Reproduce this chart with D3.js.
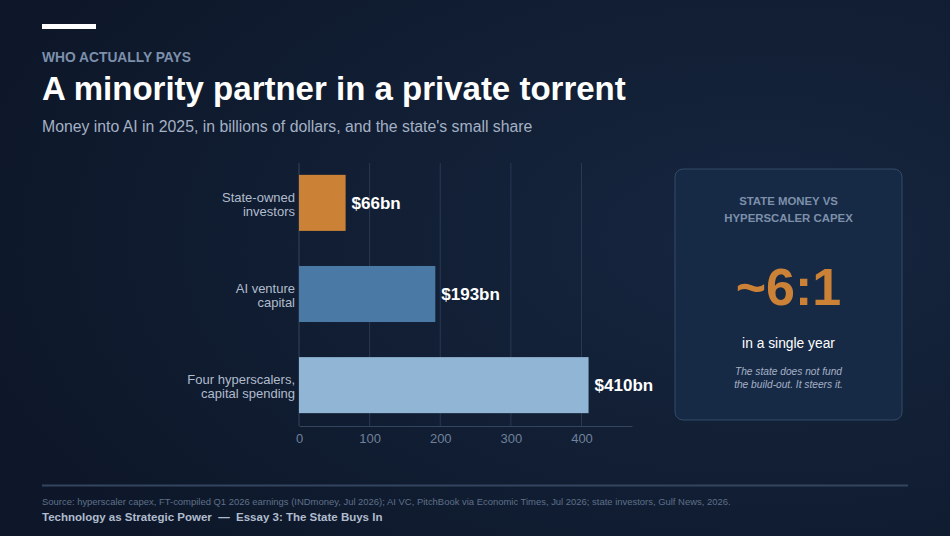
<!DOCTYPE html>
<html>
<head>
<meta charset="utf-8">
<script src="https://cdn.jsdelivr.net/npm/d3@7"></script>
<style>
  html, body { margin: 0; padding: 0; background: #0f1a2d; }
  svg { display: block; font-family: "Liberation Sans", Arial, sans-serif; }
</style>
</head>
<body>
<svg id="chart" width="950" height="536"></svg>
<script>
var categories = [["State-owned", "investors"], ["AI venture", "capital"], ["Four hyperscalers,", "capital spending"]],
    values = [66, 193, 410],
    valueLabels = ["$66bn", "$193bn", "$410bn"],
    barColors = ["#cc8236", "#4a79a5", "#91b5d5"],
    xTicks = [0, 100, 200, 300, 400];

var svg = d3.select("#chart");

// background gradient
var defs = svg.append("defs");
var bg = defs.append("radialGradient").attr("id", "bg")
  .attr("cx", "80%").attr("cy", "45%").attr("r", "85%");
bg.append("stop").attr("offset", "0%").attr("stop-color", "#16263f");
bg.append("stop").attr("offset", "100%").attr("stop-color", "#0d1729");

svg.append("rect").attr("width", 950).attr("height", 536).attr("fill", "url(#bg)");

// header
svg.append("rect").attr("x", 42).attr("y", 24).attr("width", 54).attr("height", 5).attr("fill", "#ffffff");

svg.append("text").attr("x", 42).attr("y", 62)
  .attr("fill", "#7d90ab").attr("font-size", 13.8).attr("font-weight", "bold")
  .text("WHO ACTUALLY PAYS");

svg.append("text").attr("x", 42).attr("y", 100)
  .attr("fill", "#ffffff").attr("font-size", 33).attr("font-weight", "bold")
  .text("A minority partner in a private torrent");

svg.append("text").attr("x", 42).attr("y", 132)
  .attr("fill", "#a4b1c5").attr("font-size", 15.8)
  .text("Money into AI in 2025, in billions of dollars, and the state's small share");

// chart
var x = d3.scaleLinear().domain([0, 410 * 1.15]).range([299, 632]);
var y = d3.scaleBand().domain(d3.range(values.length)).range([163, 425])
  .paddingInner(0.385).paddingOuter(0.13);

var chart = svg.append("g").attr("class", "chart");

chart.selectAll(".grid").data(xTicks.slice(1)).enter().append("line")
  .attr("class", "grid")
  .attr("x1", function(d) { return x(d); })
  .attr("x2", function(d) { return x(d); })
  .attr("y1", 163).attr("y2", 426)
  .attr("stroke", "#283954").attr("stroke-width", 1);

chart.append("line")
  .attr("x1", x(0)).attr("x2", x(0)).attr("y1", 163).attr("y2", 426)
  .attr("stroke", "#34455f").attr("stroke-width", 1);

chart.selectAll(".bar").data(values).enter().append("rect")
  .attr("class", "bar")
  .attr("x", x(0))
  .attr("y", function(d, i) { return y(i); })
  .attr("width", function(d) { return x(d) - x(0); })
  .attr("height", y.bandwidth())
  .attr("fill", function(d, i) { return barColors[i]; });

chart.selectAll(".valueLabel").data(values).enter().append("text")
  .attr("class", "valueLabel")
  .attr("x", function(d) { return x(d) + 6; })
  .attr("y", function(d, i) { return y(i) + y.bandwidth() / 2 + 6; })
  .attr("fill", "#ffffff").attr("font-size", 17).attr("font-weight", "bold")
  .text(function(d, i) { return valueLabels[i]; });

chart.selectAll(".catLabel").data(categories).enter().append("text")
  .attr("class", "catLabel")
  .attr("text-anchor", "end")
  .attr("fill", "#b0bccd").attr("font-size", 13)
  .attr("transform", function(d, i) { return "translate(295," + (y(i) + y.bandwidth() / 2) + ")"; })
  .selectAll("tspan").data(function(d) { return d; }).enter().append("tspan")
  .attr("x", 0)
  .attr("y", function(d, j) { return j == 0 ? -1 : 13; })
  .text(function(d) { return d; });

var xAxis = chart.append("g")
  .attr("transform", "translate(0,426)")
  .call(d3.axisBottom(x).tickValues(xTicks).tickSize(0).tickPadding(8));
xAxis.select(".domain").attr("stroke", "#34455f");
xAxis.selectAll("text").attr("fill", "#6f819b").attr("font-size", 13)
  .attr("font-family", "Liberation Sans, Arial, sans-serif");

// side panel
var panel = svg.append("g").attr("class", "panel");
panel.append("rect")
  .attr("x", 675).attr("y", 169).attr("width", 227).attr("height", 251)
  .attr("rx", 8).attr("ry", 8)
  .attr("fill", "#172a45").attr("stroke", "#334a68").attr("stroke-width", 1);

var cx = 788.5;
panel.append("text").attr("x", cx).attr("y", 205).attr("text-anchor", "middle")
  .attr("fill", "#7d90ab").attr("font-size", 11.4).attr("font-weight", "bold")
  .text("STATE MONEY VS");
panel.append("text").attr("x", cx).attr("y", 222).attr("text-anchor", "middle")
  .attr("fill", "#7d90ab").attr("font-size", 11.4).attr("font-weight", "bold")
  .text("HYPERSCALER CAPEX");

panel.append("text").attr("x", cx).attr("y", 305).attr("text-anchor", "middle")
  .attr("fill", "#cc8236").attr("font-size", 52).attr("font-weight", "bold")
  .text("~6:1");

panel.append("text").attr("x", cx).attr("y", 348).attr("text-anchor", "middle")
  .attr("fill", "#ffffff").attr("font-size", 13.8)
  .text("in a single year");

panel.append("text").attr("x", cx).attr("y", 375).attr("text-anchor", "middle")
  .attr("fill", "#a4b1c5").attr("font-size", 10.2).attr("font-style", "italic")
  .text("The state does not fund");
panel.append("text").attr("x", cx).attr("y", 388).attr("text-anchor", "middle")
  .attr("fill", "#a4b1c5").attr("font-size", 10.2).attr("font-style", "italic")
  .text("the build-out. It steers it.");

// footer
svg.append("line").attr("x1", 42).attr("x2", 908).attr("y1", 485.5).attr("y2", 485.5)
  .attr("stroke", "#34455f").attr("stroke-width", 2);

svg.append("text").attr("x", 42).attr("y", 505)
  .attr("fill", "#5f7089").attr("font-size", 9.45)
  .text("Source: hyperscaler capex, FT-compiled Q1 2026 earnings (INDmoney, Jul 2026); AI VC, PitchBook via Economic Times, Jul 2026; state investors, Gulf News, 2026.");

svg.append("text").attr("x", 42).attr("y", 521)
  .attr("fill", "#b0bccd").attr("font-size", 11.5).attr("font-weight", "bold")
  .style("white-space", "pre")
  .text("Technology as Strategic Power  \u2014  Essay 3: The State Buys In");
</script>
</body>
</html>
